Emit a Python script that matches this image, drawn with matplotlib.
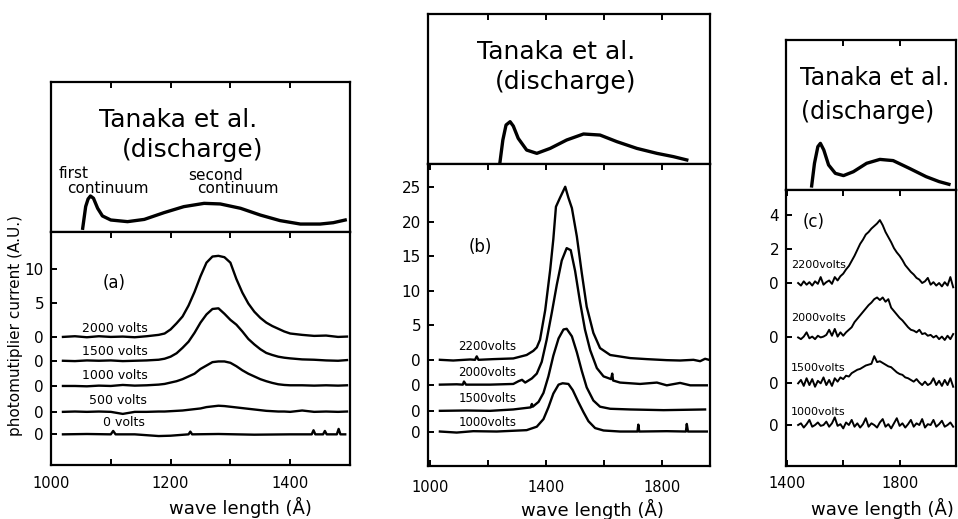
import matplotlib
matplotlib.use("Agg")
import matplotlib.pyplot as plt

W, H = 958, 519

# ---------------- panel (a) ----------------
tanaka_a_wl = [1053, 1058, 1062, 1066, 1071, 1078, 1086, 1100, 1128, 1156, 1189, 1222, 1256,
               1283, 1317, 1350, 1383, 1417, 1450, 1472, 1492]
tanaka_a = [0.025, 0.17, 0.22, 0.24, 0.225, 0.158, 0.107, 0.08, 0.069, 0.084, 0.129, 0.169,
            0.191, 0.187, 0.158, 0.113, 0.076, 0.053, 0.053, 0.062, 0.08]

wl_a = [1020, 1040, 1060, 1080, 1100, 1120, 1140, 1160, 1180, 1190, 1200, 1210, 1220, 1230,
        1240, 1250, 1260, 1270, 1280, 1290, 1300, 1310, 1320, 1330, 1340, 1350, 1360, 1370,
        1380, 1390, 1400, 1420, 1440, 1460, 1480, 1495]
v2000_a = [0.0, 0.1, -0.05, 0.1, 0.0, 0.05, -0.05, 0.1, 0.3, 0.5, 1.1, 2.0, 3.0, 4.6,
           6.6, 8.9, 10.9, 11.8, 11.9, 11.7, 10.9, 8.5, 6.5, 4.9, 3.7, 2.8, 2.1, 1.6,
           1.2, 0.8, 0.5, 0.3, 0.15, 0.2, 0.0, 0.05]
v1500_a = [0.0, -0.05, 0.05, 0.0, 0.05, -0.05, 0.0, 0.05, 0.15, 0.3, 0.6, 1.1, 1.9, 2.8,
           4.1, 5.6, 6.8, 7.6, 7.7, 6.9, 6.0, 5.3, 4.3, 3.2, 2.4, 1.7, 1.15, 0.85,
           0.6, 0.45, 0.35, 0.2, 0.15, 0.05, 0.0, 0.1]
v1000_a = [0.0, 0.0, -0.05, 0.05, 0.0, 0.15, 0.05, 0.1, 0.2, 0.3, 0.5, 0.7, 1.0, 1.4,
           1.8, 2.5, 3.0, 3.5, 3.6, 3.6, 3.4, 2.9, 2.3, 1.8, 1.4, 1.0, 0.7, 0.45,
           0.25, 0.15, 0.1, 0.1, 0.05, 0.1, 0.05, 0.1]
v500_a = [0.0, 0.05, 0.0, 0.05, 0.0, -0.3, 0.0, 0.0, 0.05, 0.05, 0.1, 0.15, 0.2, 0.3,
          0.4, 0.5, 0.7, 0.8, 0.9, 0.85, 0.75, 0.65, 0.55, 0.45, 0.35, 0.25, 0.15, 0.1,
          0.05, 0.05, 0.0, 0.2, 0.0, 0.05, 0.0, 0.05]
wl_a0 = [1020, 1060, 1100, 1104, 1108, 1140, 1180, 1200, 1230, 1233, 1236, 1280, 1340, 1400,
         1436, 1439, 1442, 1455, 1458, 1461, 1478, 1481, 1484, 1492]
v0_a = [0.0, 0.05, 0.0, 0.5, 0.0, 0.0, -0.25, -0.2, 0.0, 0.4, 0.0, 0.05, -0.05, 0.0,
        0.0, 0.6, 0.0, 0.0, 0.5, 0.0, 0.0, 0.8, 0.0, 0.0]

volts_a = ["2000 volts", "1500 volts", "1000 volts", "500 volts", "0 volts"]
offsets_a = [0.0, -3.5, -7.2, -11.0, -14.3]

# ---------------- panel (b) ----------------
tanaka_b_wl = [1241, 1251, 1262, 1276, 1287, 1304, 1333, 1368, 1414, 1471, 1529, 1586, 1644,
               1713, 1782, 1839, 1885]
tanaka_b = [0.011, 0.16, 0.26, 0.282, 0.253, 0.171, 0.093, 0.071, 0.104, 0.16, 0.2, 0.193,
            0.149, 0.104, 0.071, 0.049, 0.027]

wl2200_b = [1034, 1080, 1138, 1155, 1161, 1167, 1218, 1287, 1333, 1356, 1368, 1379, 1397,
            1414, 1425, 1434, 1448, 1466, 1477, 1489, 1506, 1523, 1540, 1563, 1586, 1621,
            1690, 1747, 1816, 1862, 1908, 1931, 1948, 1966]
v2200_b = [0.0, -0.1, 0.05, 0.0, 0.5, 0.0, 0.1, 0.2, 0.7, 1.3, 1.8, 2.9, 7.2,
           13.0, 17.5, 22.2, 23.5, 25.1, 23.5, 22.0, 17.9, 12.6, 7.7, 3.9, 1.7, 0.7,
           0.25, 0.1, -0.05, -0.1, 0.0, -0.2, 0.15, -0.05]
wl2000_b = [1034, 1092, 1113, 1117, 1124, 1207, 1287, 1305, 1317, 1328, 1351, 1368, 1385,
            1402, 1420, 1437, 1454, 1471, 1485, 1500, 1517, 1534, 1552, 1575, 1598, 1624,
            1628, 1631, 1655, 1724, 1782, 1816, 1862, 1897, 1954]
v2000_b = [0.0, 0.05, 0.0, 0.45, 0.0, 0.0, 0.1, 0.5, 0.7, 0.3, 0.9, 1.6, 3.3,
           6.5, 10.5, 14.5, 18.0, 19.8, 19.5, 16.5, 12.0, 8.0, 5.0, 2.4, 1.2, 0.8,
           1.6, 0.6, 0.3, 0.1, 0.3, -0.1, 0.25, -0.1, -0.1]
wl1500_b = [1034, 1126, 1207, 1287, 1347, 1351, 1354, 1374, 1391, 1408, 1425, 1443, 1460,
            1471, 1489, 1506, 1523, 1540, 1563, 1586, 1621, 1690, 1805, 1948]
v1500_b = [0.0, 0.05, 0.0, 0.2, 0.5, 1.0, 0.6, 1.3, 2.6, 5.0, 8.0, 10.5, 11.8,
           11.9, 10.8, 8.5, 5.8, 3.4, 1.5, 0.6, 0.3, 0.2, 0.1, 0.2]
wl1000_b = [1034, 1092, 1149, 1230, 1333, 1368, 1391, 1408, 1425, 1443, 1457, 1477, 1492,
            1511, 1529, 1546, 1569, 1598, 1655, 1715, 1718, 1721, 1816, 1882, 1885, 1889,
            1954]
v1000_b = [0.0, -0.15, 0.05, 0.0, 0.2, 0.7, 1.8, 3.5, 5.5, 6.8, 7.0, 6.9, 6.0,
           4.3, 2.8, 1.5, 0.5, 0.15, 0.0, 0.0, 1.0, 0.0, 0.05, 0.0, 1.1, 0.0,
           0.0]

volts_b = ["2200volts", "2000volts", "1500volts", "1000volts"]
offsets_b = [0.0, -3.6, -7.4, -10.4]

# ---------------- panel (c) ----------------
tanaka_c_wl = [1488, 1498, 1510, 1519, 1531, 1548, 1572, 1601, 1636, 1683, 1730, 1777, 1835,
               1894, 1940, 1975]
tanaka_c = [0.027, 0.178, 0.289, 0.311, 0.267, 0.167, 0.111, 0.096, 0.122, 0.178, 0.204,
            0.196, 0.144, 0.089, 0.056, 0.038]

wl_c = [1440, 1450, 1460, 1470, 1480, 1490, 1500, 1510, 1520, 1530, 1540, 1550, 1560, 1570,
        1580, 1590, 1600, 1610, 1620, 1630, 1640, 1650, 1660, 1670, 1680, 1690, 1700, 1710,
        1720, 1730, 1740, 1750, 1760, 1770, 1780, 1790, 1800, 1810, 1820, 1830, 1840, 1850,
        1860, 1870, 1880, 1890, 1900, 1910, 1920, 1930, 1940, 1950, 1960, 1970, 1980, 1990]
v2200_c = [0.0, -0.15, 0.1, -0.1, 0.05, -0.15, 0.1, -0.05, 0.35, -0.1, 0.05, 0.15, -0.05, 0.35,
           0.15, 0.4, 0.55, 0.8, 1.0, 1.3, 1.6, 1.95, 2.3, 2.55, 2.85, 3.0, 3.2, 3.35,
           3.5, 3.7, 3.4, 3.0, 2.7, 2.4, 2.05, 1.8, 1.6, 1.35, 1.05, 0.85, 0.65, 0.5,
           0.3, 0.2, 0.0, 0.1, 0.3, -0.1, 0.05, -0.15, 0.0, -0.2, 0.05, -0.15, 0.35, -0.25]
v2000_c = [0.0, -0.1, 0.05, 0.3, -0.05, 0.05, -0.1, 0.1, 0.0, 0.05, 0.15, 0.45, 0.1, 0.5,
           0.05, 0.3, 0.1, 0.3, 0.45, 0.6, 0.9, 1.1, 1.3, 1.5, 1.7, 1.9, 2.05, 2.25,
           2.35, 2.2, 2.35, 2.1, 2.25, 1.75, 1.55, 1.35, 1.15, 1.0, 0.8, 0.6, 0.45, 0.4,
           0.3, 0.45, 0.2, 0.25, 0.1, 0.15, 0.0, 0.1, -0.1, 0.05, -0.15, 0.1, -0.1, 0.2]
v1500_c = [0.0, 0.2, -0.15, 0.3, -0.1, 0.25, -0.2, 0.15, 0.0, 0.35, -0.1, 0.2, -0.15, 0.3,
           0.1, 0.35, 0.25, 0.45, 0.4, 0.6, 0.7, 0.8, 0.85, 0.95, 1.05, 1.1, 1.15, 1.6,
           1.25, 1.3, 1.2, 1.1, 1.0, 0.95, 0.8, 0.65, 0.55, 0.5, 0.35, 0.3, 0.2, 0.1,
           0.25, 0.05, -0.1, 0.1, -0.1, 0.0, 0.3, -0.1, 0.15, -0.15, 0.2, -0.1, 0.3, -0.2]
v1000_c = [0.0, 0.1, -0.15, 0.05, 0.3, -0.1, 0.0, 0.15, -0.05, 0.0, 0.2, -0.1, 0.1, 0.45,
           -0.05, 0.05, -0.2, 0.15, 0.0, 0.3, -0.1, 0.1, -0.15, 0.05, 0.4, -0.1, 0.1, 0.0,
           -0.15, 0.15, 0.35, -0.1, 0.05, -0.2, 0.1, 0.4, -0.05, 0.1, -0.15, 0.05, 0.3, -0.1,
           0.1, 0.0, 0.35, -0.15, 0.05, 0.0, 0.3, -0.1, 0.05, 0.25, -0.1, 0.0, 0.15, -0.1]

volts_c = ["2200volts", "2000volts", "1500volts", "1000volts"]
offsets_c = [0.0, -3.2, -5.9, -8.35]


def box(x0, y0, x1, y1):
    # pixel rectangle -> figure fraction [left, bottom, width, height]
    return [x0 / W, 1 - y1 / H, (x1 - x0) / W, (y1 - y0) / H]


def style_top(ax, xlim, ticks):
    ax.set_xlim(*xlim)
    ax.set_ylim(0, 1)
    ax.set_xticks(ticks)
    ax.set_yticks([])
    ax.tick_params(axis="x", direction="in", top=True, bottom=False,
                   labeltop=False, labelbottom=False, length=4, width=1.4)
    for s in ax.spines.values():
        s.set_linewidth(1.6)


def style_low(ax, xlim, ylim, xticks, xlabels, yticks, ylabels, xpad):
    ax.set_xlim(*xlim)
    ax.set_ylim(*ylim)
    ax.set_xticks(xticks, xlabels)
    ax.set_yticks(yticks, ylabels)
    ax.tick_params(axis="x", direction="in", top=True, bottom=True,
                   length=4, width=1.4, pad=xpad, labelsize=10.5)
    ax.tick_params(axis="y", direction="in", length=4, width=1.4, pad=5, labelsize=11)
    for s in ax.spines.values():
        s.set_linewidth(1.6)


fig = plt.figure(figsize=(W / 100, H / 100), dpi=100)
lw = 1.7

# ---- (a)
ta = fig.add_axes(box(51, 82, 350, 232))
ta.plot(tanaka_a_wl, tanaka_a, color="black", lw=2.4)
style_top(ta, (1000, 1500), [1100, 1200, 1300, 1400])
ta.text(1212, 0.747, "Tanaka et al.", ha="center", va="center", fontsize=18)
ta.text(1236, 0.547, "(discharge)", ha="center", va="center", fontsize=18)
ta.text(1012, 0.393, "first", ha="left", va="center", fontsize=11)
ta.text(1027, 0.293, "continuum", ha="left", va="center", fontsize=11)
ta.text(1229, 0.38, "second", ha="left", va="center", fontsize=11)
ta.text(1244, 0.287, "continuum", ha="left", va="center", fontsize=11)

la = fig.add_axes(box(51, 232, 350, 465))
curves_a = [(wl_a, v2000_a), (wl_a, v1500_a), (wl_a, v1000_a), (wl_a, v500_a), (wl_a0, v0_a)]
for (wl, v), off in zip(curves_a, offsets_a):
    la.plot(wl, [y + off for y in v], color="black", lw=lw)
label_pos_a = [(1052, 1.3), (1052, -2.1), (1052, -5.7), (1064, -9.4), (1087, -12.6)]
for name, (x, y) in zip(volts_a, label_pos_a):
    la.text(x, y, name, ha="left", va="center", fontsize=9)
la.text(1105, 7.9, "(a)", ha="center", va="center", fontsize=12)
style_low(la, (1000, 1500), (-18.8, 15.4),
          [1000, 1100, 1200, 1300, 1400], ["1000", "", "1200", "", "1400"],
          [10, 5] + offsets_a, ["10", "5", "0", "0", "0", "0", "0"], xpad=8)

# ---- (b)
tb = fig.add_axes(box(428, 14, 710, 164))
tb.plot(tanaka_b_wl, tanaka_b, color="black", lw=2.4)
style_top(tb, (993, 1965), [1200, 1400, 1600, 1800])
tb.text(1434, 0.747, "Tanaka et al.", ha="center", va="center", fontsize=18)
tb.text(1466, 0.547, "(discharge)", ha="center", va="center", fontsize=18)

lb = fig.add_axes(box(428, 164, 710, 466))
curves_b = [(wl2200_b, v2200_b), (wl2000_b, v2000_b), (wl1500_b, v1500_b), (wl1000_b, v1000_b)]
for (wl, v), off in zip(curves_b, offsets_b):
    lb.plot(wl, [y + off for y in v], color="black", lw=lw)
label_pos_b = [(1097, 1.9), (1097, -1.9), (1097, -5.65), (1097, -9.1)]
for name, (x, y) in zip(volts_b, label_pos_b):
    lb.text(x, y, name, ha="left", va="center", fontsize=8.5)
lb.text(1172, 16.4, "(b)", ha="center", va="center", fontsize=12)
style_low(lb, (993, 1965), (-15.4, 28.4),
          [1000, 1200, 1400, 1600, 1800], ["1000", "", "1400", "", "1800"],
          [25, 20, 15, 10, 5] + offsets_b,
          ["25", "20", "15", "10", "5", "0", "0", "0", "0"], xpad=10)

# ---- (c)
tc = fig.add_axes(box(786, 40, 956, 190))
tc.plot(tanaka_c_wl, tanaka_c, color="black", lw=2.4)
style_top(tc, (1397, 2000), [1600, 1800])
tc.text(1712, 0.747, "Tanaka et al.", ha="center", va="center", fontsize=17)
tc.text(1688, 0.52, "(discharge)", ha="center", va="center", fontsize=17)

lc = fig.add_axes(box(786, 190, 956, 466))
curves_c = [v2200_c, v2000_c, v1500_c, v1000_c]
for v, off in zip(curves_c, offsets_c):
    lc.plot(wl_c, [y + off for y in v], color="black", lw=1.4)
label_pos_c = [(1414, 1.06), (1414, -2.06), (1414, -5.0), (1414, -7.6)]
for name, (x, y) in zip(volts_c, label_pos_c):
    lc.text(x, y, name, ha="left", va="center", fontsize=8)
lc.text(1495, 3.6, "(c)", ha="center", va="center", fontsize=12)
style_low(lc, (1397, 2000), (-10.76, 5.47),
          [1400, 1600, 1800], ["1400", "", "1800"],
          [4, 2] + offsets_c, ["4", "2", "0", "0", "0", "0"], xpad=7)

# axis titles placed in pixel coordinates
fig.text(16 / W, 1 - 325 / H, "photomutiplier current (A.U.)", rotation=90,
         ha="center", va="center", fontsize=11)
for cx, cy in [(240, 507), (592, 509), (882, 508)]:
    fig.text(cx / W, 1 - cy / H, "wave length (Å)", ha="center", va="center", fontsize=13)

fig.savefig("out.png", dpi=100)
